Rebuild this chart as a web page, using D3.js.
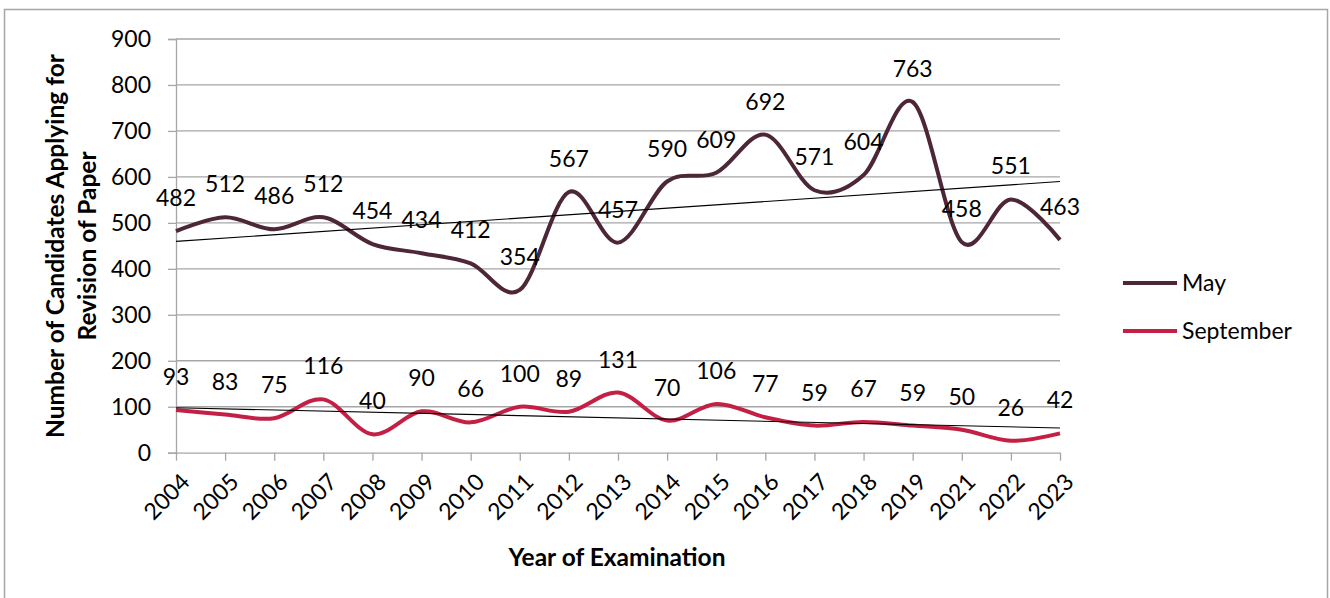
<!DOCTYPE html>
<html>
<head>
<meta charset="utf-8">
<script src="https://cdn.jsdelivr.net/npm/d3@7"></script>
<style>
  body { margin: 0; background: #fff; }
  text { font-family: Lato, "Open Sans", sans-serif; fill: #000; }
</style>
</head>
<body>
<div id="canvas"></div>
<script>
// years on the x axis (2020 is missing in the source)
const years = ["2004","2005","2006","2007","2008","2009","2010","2011","2012","2013","2014","2015","2016","2017","2018","2019","2021","2022","2023"];
const mayValues = [482,512,486,512,454,434,412,354,567,457,590,609,692,571,604,763,458,551,463];
const septValues = [93,83,75,116,40,90,66,100,89,131,70,106,77,59,67,59,50,26,42];
const yTicks = [0,100,200,300,400,500,600,700,800,900];
const seriesNames = ["May", "September"];

const width = 1330, height = 598;
const margin = {left: 176, right: 270, top: 39, bottom: 145};
const colors = {"May": "#4d2738", "September": "#c41f45"};

let svg = d3.select("#canvas").append("svg").attr("width", width).attr("height", height);
svg.append("rect").attr("x", 4.5).attr("y", 9.5).attr("width", 1323).attr("height", 600)
    .attr("fill", "#fff").attr("stroke", "#a6a6a6").attr("stroke-width", 1.5);

var x = d3.scalePoint().domain(years).range([margin.left, 1060]);
var y = d3.scaleLinear().domain([0, 900]).range([height - margin.bottom - 0.3, margin.top]);

// gridlines
svg.append("g").selectAll("line").data(yTicks.slice(1)).enter().append("line")
    .attr("x1", margin.left).attr("x2", x("2023"))
    .attr("y1", d => y(d)).attr("y2", d => y(d))
    .attr("stroke", "#a6a6a6").attr("stroke-width", 1.3);

// y axis
let yAxis = svg.append("g").attr("transform", "translate(" + margin.left + ",0)")
    .call(d3.axisLeft(y).tickValues(yTicks).tickSize(8).tickPadding(17));
yAxis.select(".domain").attr("stroke", "#a6a6a6").attr("stroke-width", 1.3);
yAxis.selectAll(".tick line").attr("stroke", "#a6a6a6").attr("stroke-width", 1.3);
yAxis.selectAll(".tick text").style("font-size", "23px").attr("font-family", null);

// x axis
let xAxis = svg.append("g").attr("transform", "translate(0," + y(0) + ")")
    .call(d3.axisBottom(x).tickSize(8).tickSizeOuter(0));
xAxis.select(".domain").attr("stroke", "#a6a6a6").attr("stroke-width", 1.3);
xAxis.selectAll(".tick line").attr("stroke", "#a6a6a6").attr("stroke-width", 1.3);
xAxis.selectAll(".tick text")
    .style("font-size", "23px").attr("font-family", null)
    .attr("text-anchor", "end")
    .attr("transform", "translate(9,25) rotate(-45)")
    .attr("y", 0).attr("dy", "0.35em");

// smoothed lines
const line = d3.line().x(d => x(d.year)).y(d => y(d.value)).curve(d3.curveCardinal.tension(0));
const seriesData = {
    "May": years.map((yr, i) => ({year: yr, value: mayValues[i]})),
    "September": years.map((yr, i) => ({year: yr, value: septValues[i]}))
};

// linear trend lines
function trend(values) {
    let n = values.length;
    let mx = (n + 1) / 2;
    let my = d3.mean(values);
    let sxy = 0, sxx = 0;
    values.forEach((v, i) => { sxy += (i + 1 - mx) * (v - my); sxx += (i + 1 - mx) * (i + 1 - mx); });
    let slope = sxy / sxx;
    return [my + slope * (1 - mx), my + slope * (n - mx)];
}

seriesNames.forEach(name => {
    svg.append("path").datum(seriesData[name])
        .attr("fill", "none").attr("stroke", colors[name]).attr("stroke-width", 4)
        .attr("stroke-linejoin", "round").attr("d", line);
});
seriesNames.forEach(name => {
    let vals = name == "May" ? mayValues : septValues;
    let t = trend(vals);
    svg.append("line")
        .attr("x1", x(years[0])).attr("y1", y(t[0]))
        .attr("x2", x(years[years.length - 1])).attr("y2", y(t[1]))
        .attr("stroke", "#000").attr("stroke-width", 1.1);
});

// data labels
seriesNames.forEach(name => {
    svg.append("g").selectAll("text").data(seriesData[name]).enter().append("text")
        .attr("x", d => x(d.year)).attr("y", d => y(d.value) - 33)
        .attr("dy", "0.35em").attr("text-anchor", "middle")
        .style("font-size", "23px")
        .text(d => d.value);
});

// axis titles
svg.append("text")
    .attr("transform", "translate(55,246) rotate(-90)")
    .attr("text-anchor", "middle").attr("dy", "0.35em")
    .style("font-size", "24.5px").style("font-weight", "bold")
    .text("Number of Candidates Applying for");
svg.append("text")
    .attr("transform", "translate(87,246) rotate(-90)")
    .attr("text-anchor", "middle").attr("dy", "0.35em")
    .style("font-size", "24.5px").style("font-weight", "bold")
    .text("Revision of Paper");
svg.append("text")
    .attr("x", 617).attr("y", 557).attr("dy", "0.35em")
    .attr("text-anchor", "middle")
    .style("font-size", "24.5px").style("font-weight", "bold")
    .text("Year of Examination");

// legend
let legend = svg.append("g").selectAll("g").data(seriesNames).enter().append("g")
    .attr("transform", (d, i) => "translate(1123," + (283 + i * 48) + ")");
legend.append("line").attr("x1", 0).attr("x2", 54).attr("y1", 0).attr("y2", 0)
    .attr("stroke", d => colors[d]).attr("stroke-width", 4);
legend.append("text").attr("x", 59).attr("dy", "0.35em")
    .style("font-size", "23px").text(d => d);
</script>
</body>
</html>
